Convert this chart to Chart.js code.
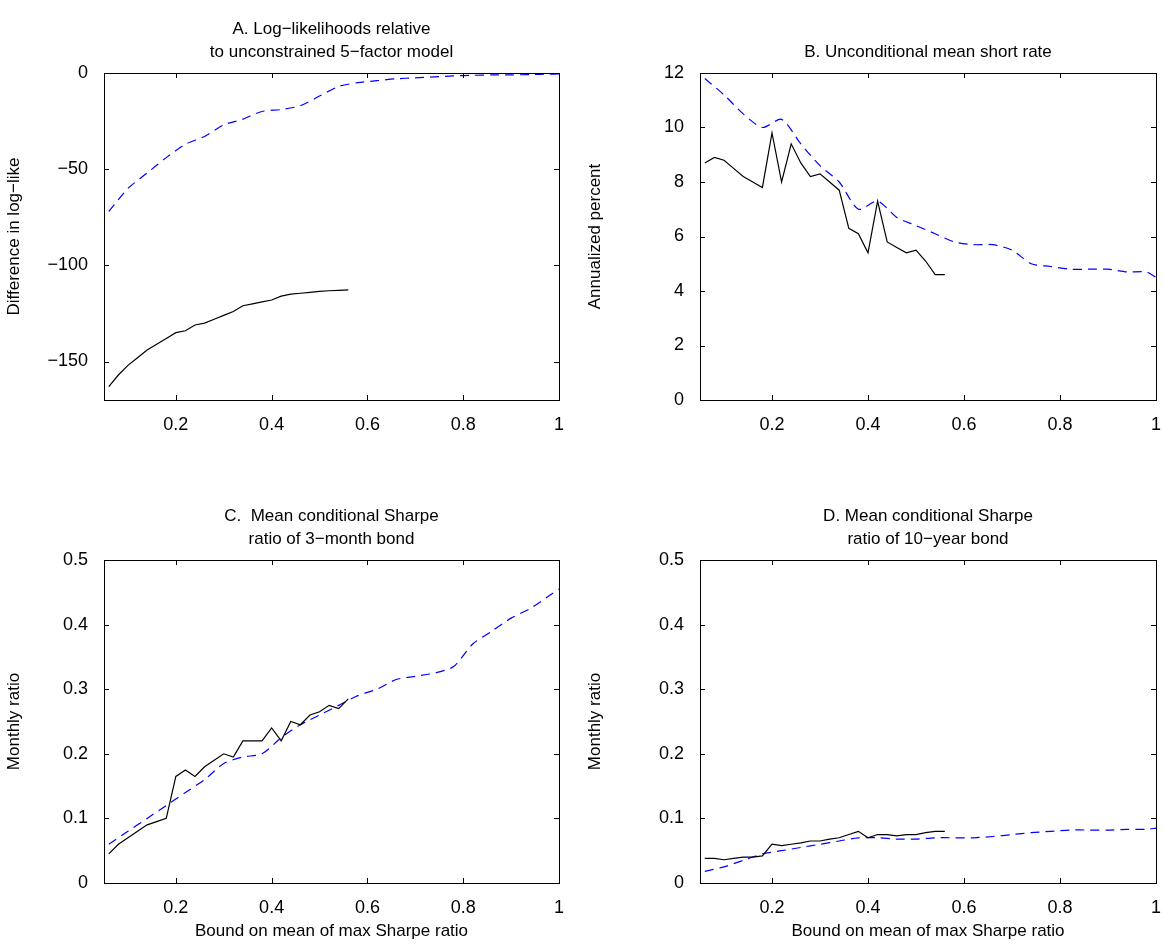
<!DOCTYPE html>
<html><head><meta charset="utf-8">
<script src="https://cdn.jsdelivr.net/npm/chart.js@4"></script>
<style>
body{margin:0;background:#fff;width:1163px;height:946px;position:relative;overflow:hidden}
canvas{position:absolute}
</style></head><body>
<canvas id="cA" style="left:0;top:0" width="581" height="473"></canvas>
<canvas id="cB" style="left:581px;top:0" width="582" height="473"></canvas>
<canvas id="cC" style="left:0;top:473px" width="581" height="473"></canvas>
<canvas id="cD" style="left:581px;top:473px" width="582" height="473"></canvas>
<script>
// grids of the bound on the Sharpe ratio
const xBlack = [0.06,0.08,0.10,0.12,0.14,0.16,0.18,0.20,0.22,0.24,0.26,0.28,0.30,0.32,0.34,0.36,0.38,0.40,0.42,0.44,0.46,0.48,0.50,0.52,0.54,0.56];
const xBlue = [0.06,0.10,0.14,0.18,0.22,0.26,0.30,0.34,0.38,0.42,0.46,0.50,0.54,0.58,0.62,0.66,0.70,0.74,0.78,0.82,0.86,0.90,0.94,0.98,1.00];

const blackA = [-163,-157,-152,-148,-144,-141,-138,-135,-134,-131,-130,-128,-126,-124,-121,-120,-119,-118,-116,-115,-114.5,-114,-113.5,-113.2,-113,-112.8];
const blueA = [-72,-60,-52,-44,-37,-33,-27,-24,-20,-19,-17,-12,-7,-5,-4,-3,-2.5,-2,-1.5,-1.2,-1,-1,-0.8,-0.6,-0.5];

const blackB = [8.7,8.9,8.8,8.5,8.2,8.0,7.8,9.8,8.0,9.4,8.7,8.2,8.3,8.0,7.7,6.3,6.1,5.4,7.3,5.8,5.6,5.4,5.5,5.1,4.6,4.6];
const blueB = [11.8,11.2,10.5,10.0,10.3,9.4,8.6,8.0,7.0,7.3,6.7,6.4,6.1,5.8,5.7,5.7,5.5,5.0,4.9,4.8,4.8,4.8,4.7,4.7,4.5];

const blackC = [0.045,0.06,0.07,0.08,0.09,0.095,0.10,0.165,0.175,0.165,0.18,0.19,0.20,0.195,0.22,0.22,0.22,0.24,0.22,0.25,0.245,0.26,0.265,0.275,0.27,0.285];
const blueC = [0.06,0.08,0.10,0.12,0.14,0.16,0.185,0.195,0.20,0.225,0.245,0.26,0.275,0.29,0.30,0.315,0.32,0.325,0.335,0.37,0.39,0.41,0.425,0.445,0.455];

const blackD = [0.038,0.038,0.036,0.038,0.04,0.04,0.042,0.06,0.058,0.06,0.062,0.065,0.065,0.068,0.07,0.075,0.08,0.07,0.075,0.075,0.073,0.075,0.075,0.078,0.08,0.08];
const blueD = [0.018,0.025,0.035,0.045,0.05,0.055,0.06,0.065,0.07,0.07,0.068,0.068,0.07,0.07,0.07,0.072,0.075,0.078,0.08,0.082,0.082,0.082,0.083,0.083,0.085];

const xTicks = [0.2,0.4,0.6,0.8,1];
const FONT = 'Liberation Sans, Arial, sans-serif';

function pts(xs, ys){ return xs.map((x,i)=>({x:x,y:ys[i]})); }
function fmt(v){ return String(+v.toFixed(4)).replace('-','\u2212'); }

const frame = {
  id:'frame',
  afterDraw(chart){
    const c = chart.ctx, a = chart.chartArea, o = chart.options.plugins.frame;
    c.save();
    c.strokeStyle='#000'; c.lineWidth=1;
    c.strokeRect(Math.round(a.left)+0.5, Math.round(a.top)+0.5, Math.round(a.right-a.left), Math.round(a.bottom-a.top));
    const xs = chart.scales.x, ys = chart.scales.y;
    c.beginPath();
    xs.ticks.forEach(t=>{ const p=Math.round(xs.getPixelForValue(t.value))+0.5;
      c.moveTo(p,a.bottom); c.lineTo(p,a.bottom-5); c.moveTo(p,a.top); c.lineTo(p,a.top+5); });
    ys.ticks.forEach(t=>{ const p=Math.round(ys.getPixelForValue(t.value))+0.5;
      c.moveTo(a.left,p); c.lineTo(a.left+5,p); c.moveTo(a.right,p); c.lineTo(a.right-5,p); });
    c.stroke();
    c.fillStyle='#000'; c.font='17px '+FONT; c.textAlign='center'; c.textBaseline='middle';
    const cx=(a.left+a.right)/2;
    o.title.forEach((s,i)=>c.fillText(s, cx, a.top - 23*(o.title.length-i) + 2));
    c.restore();
  }
};

function make(id, black, blue, ymin, ymax, yTicks, ytitle, xtitle, title, pad, yw, xh){
  new Chart(document.getElementById(id), {
    type:'line',
    data:{datasets:[
      {data:pts(xBlack,black), borderColor:'#000', borderWidth:1.2, pointRadius:0, tension:0},
      {data:pts(xBlue,blue), borderColor:'#0000ff', borderWidth:1.2, borderDash:[9,6], pointRadius:0, tension:0.25}
    ]},
    options:{
      responsive:false, animation:false,
      layout:{padding:pad},
      plugins:{legend:{display:false}, tooltip:{enabled:false}, frame:{title:title}},
      scales:{
        x:{type:'linear', min:0.05, max:1,
          afterBuildTicks:s=>{s.ticks=xTicks.map(v=>({value:v}));},
          afterFit:s=>{s.height=xh; s.paddingRight=0; s.paddingLeft=0;},
          grid:{display:false}, border:{display:false},
          ticks:{color:'#000', font:{family:FONT,size:18}, padding:6, maxRotation:0, callback:fmt},
          title:{display:!!xtitle, text:xtitle, color:'#000', font:{family:FONT,size:17}, padding:{top:0}}},
        y:{type:'linear', min:ymin, max:ymax,
          afterBuildTicks:s=>{s.ticks=yTicks.map(v=>({value:v}));},
          afterFit:s=>{s.width=yw;},
          grid:{display:false}, border:{display:false},
          ticks:{color:'#000', font:{family:FONT,size:18}, padding:8, callback:fmt},
          title:{display:true, text:ytitle, color:'#000', font:{family:FONT,size:17}, padding:{bottom:4}}}
      }
    },
    plugins:[frame]
  });
}

make('cA', blackA, blueA, -170, 0, [-150,-100,-50,0], 'Difference in log\u2212like', '',
  ['A. Log\u2212likelihoods relative','to unconstrained 5\u2212factor model'], {top:73,right:22,left:0,bottom:0}, 104, 73);
make('cB', blackB, blueB, 0, 12, [0,2,4,6,8,10,12], 'Annualized percent', '',
  ['B. Unconditional mean short rate'], {top:73,right:7,left:0,bottom:0}, 119, 73);
make('cC', blackC, blueC, 0, 0.5, [0,0.1,0.2,0.3,0.4,0.5], 'Monthly ratio', 'Bound on mean of max Sharpe ratio',
  ['C.  Mean conditional Sharpe','ratio of 3\u2212month bond'], {top:87,right:22,left:0,bottom:0}, 104, 63);
make('cD', blackD, blueD, 0, 0.5, [0,0.1,0.2,0.3,0.4,0.5], 'Monthly ratio', 'Bound on mean of max Sharpe ratio',
  ['D. Mean conditional Sharpe','ratio of 10\u2212year bond'], {top:87,right:7,left:0,bottom:0}, 119, 63);
</script>
</body></html>
